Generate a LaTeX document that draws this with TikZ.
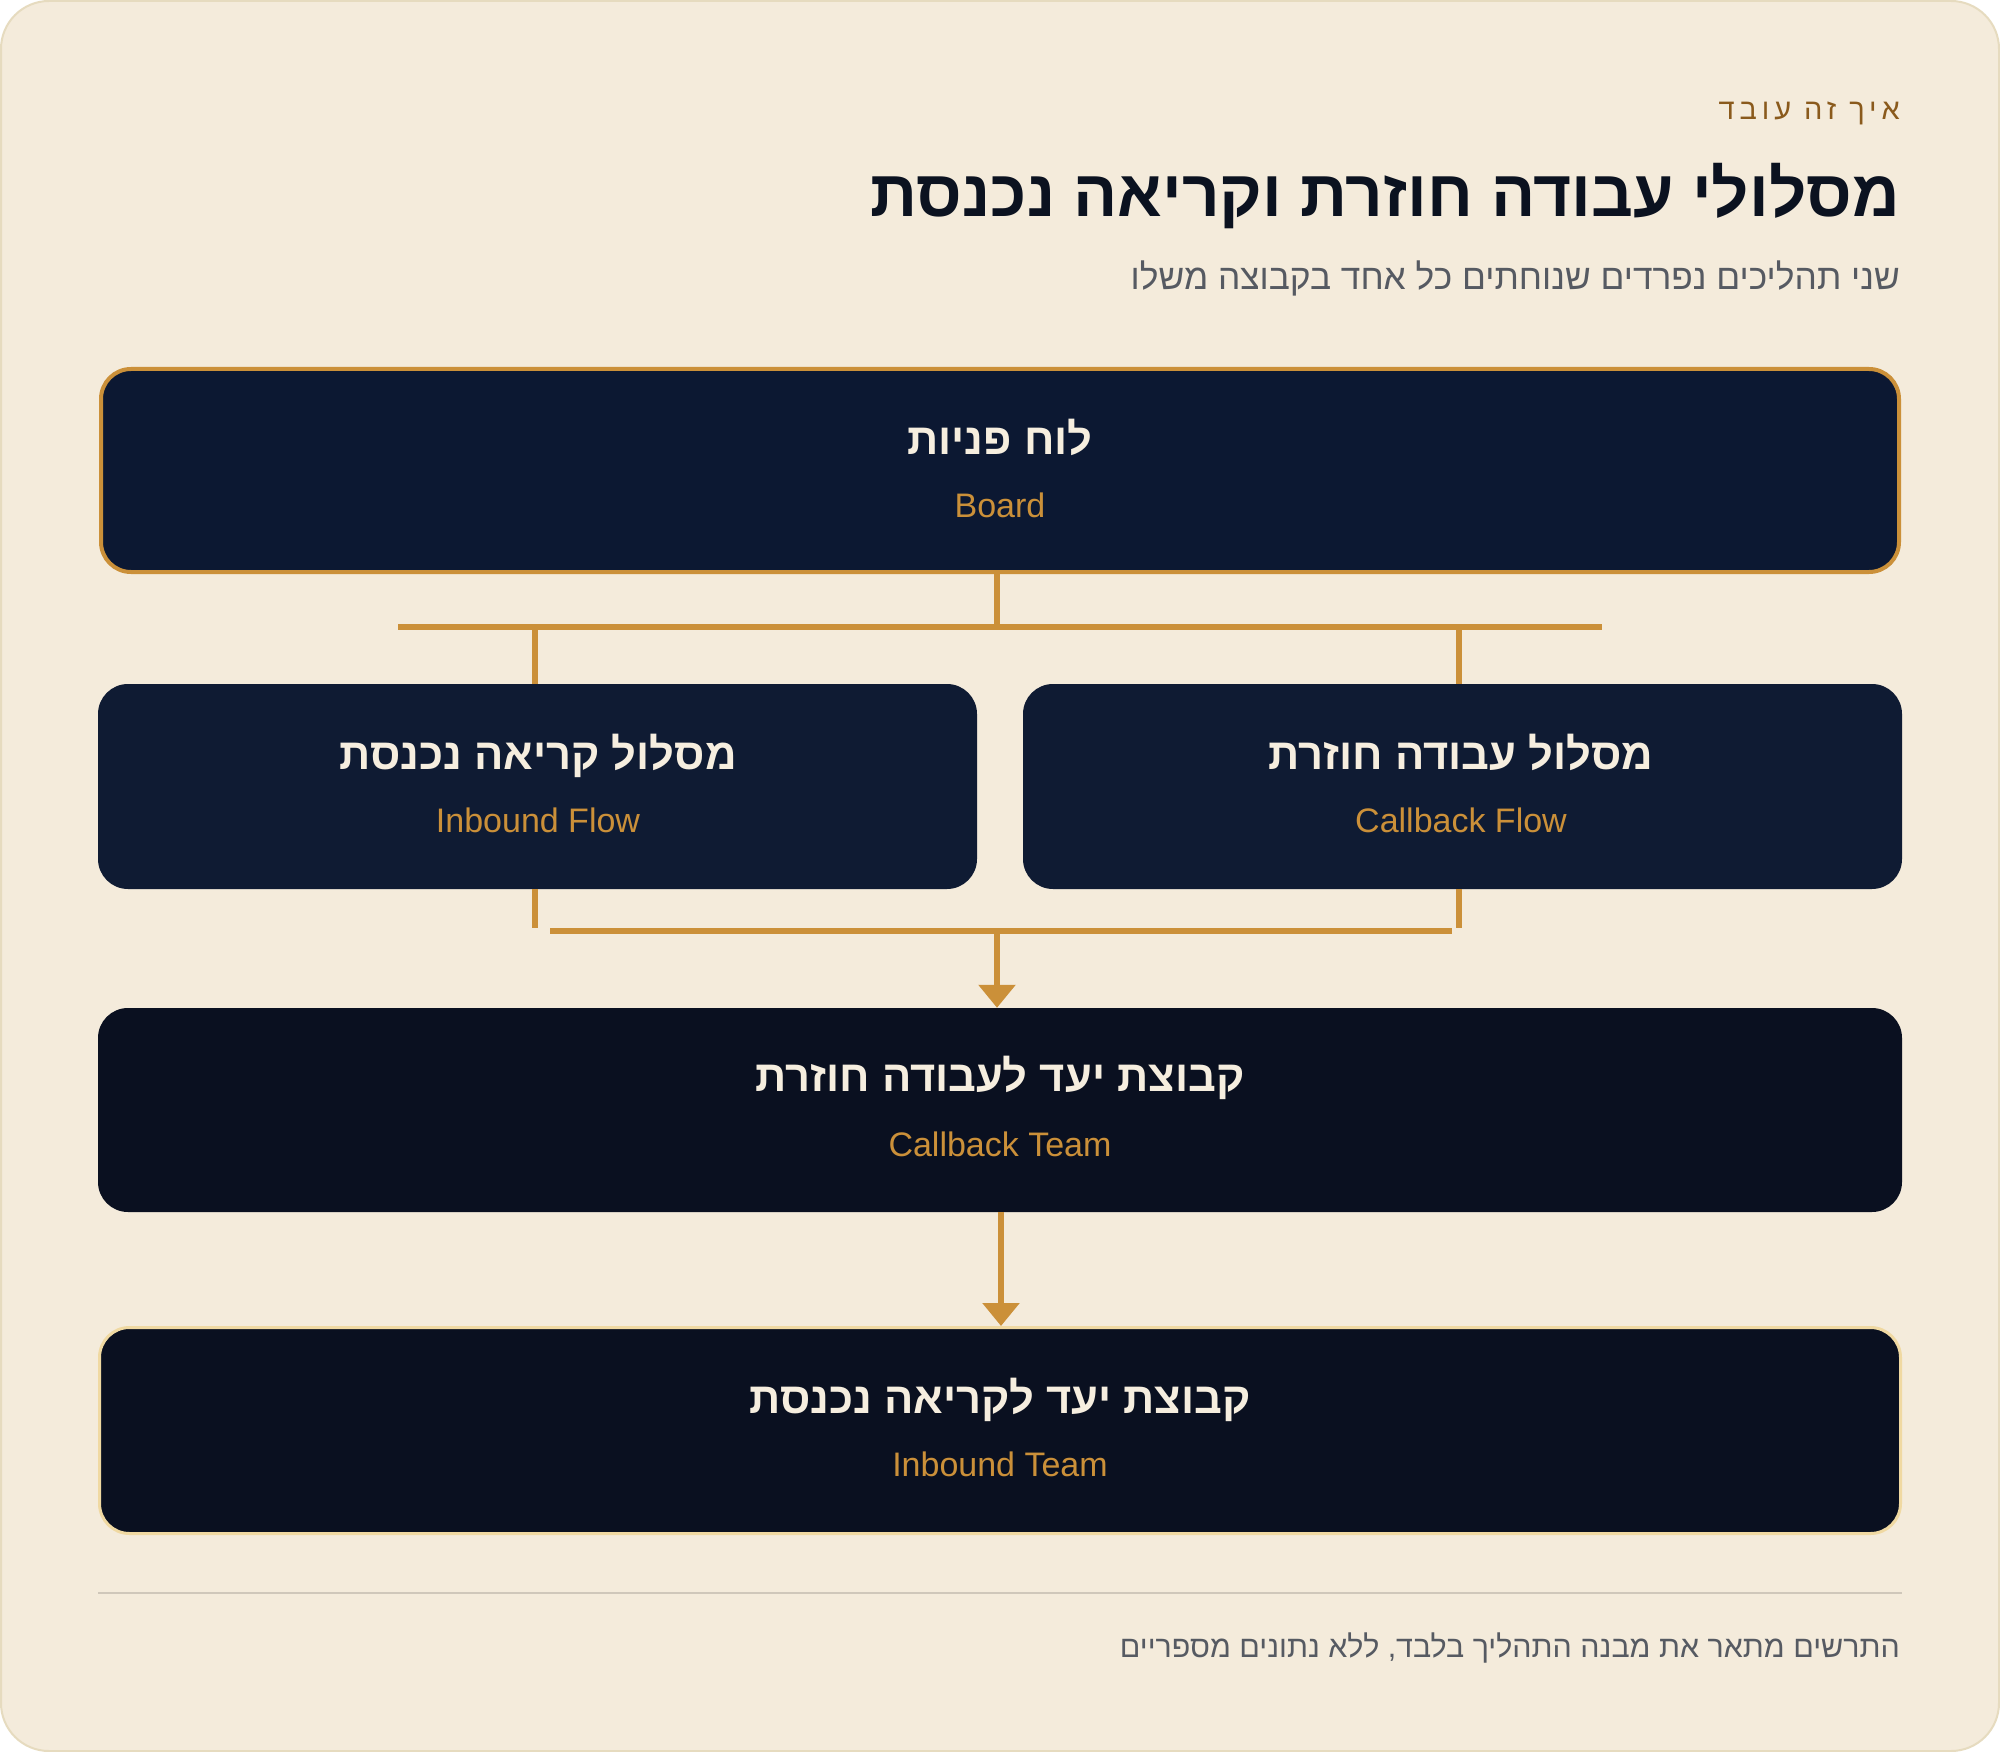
\documentclass[tikz,border=0pt]{standalone}
\usepackage{fontspec}
\setmainfont{Liberation Sans}
\newfontfamily\heb[Script=Hebrew]{Liberation Sans}
\TeXXeTstate=1
\usetikzlibrary{arrows.meta}
\definecolor{cardbg}{HTML}{F4EBDB}
\definecolor{cardline}{HTML}{E6DBBF}
\definecolor{navyA}{HTML}{0C1832}
\definecolor{navyB}{HTML}{0F1B33}
\definecolor{navyC}{HTML}{0A1020}
\definecolor{gold}{HTML}{CB9039}
\definecolor{palegold}{HTML}{F0D9A2}
\definecolor{cream}{HTML}{F6EEDF}
\definecolor{ink}{HTML}{0B1220}
\definecolor{muted}{HTML}{565A62}
\definecolor{kick}{HTML}{8A5A1C}
\definecolor{sepline}{HTML}{CFC7BA}
\tikzset{
  box/.style={rectangle, rounded corners=30pt, inner sep=0pt, draw=none},
  hebt/.style={anchor=base, inner sep=0pt, text=cream, font=\heb\bfseries\fontsize{43.5}{50}\selectfont},
  engt/.style={anchor=base, inner sep=0pt, text=gold, font=\fontsize{34}{40}\selectfont},
  conn/.style={draw=gold, line width=6pt, line cap=butt},
  arr/.style={draw=gold, line width=6pt, -{Triangle[width=36pt,length=23pt]}},
  headt/.style={anchor=base east, inner sep=0pt}
}
\begin{document}
\begin{tikzpicture}[x=1pt,y=-1pt]
\useasboundingbox (0,0) rectangle (2000,1752);
\fill[white] (0,0) rectangle (2000,1752);
\draw[fill=cardbg, draw=cardline, line width=2pt, rounded corners=48pt] (1,1) rectangle (1999,1751);

% header
\node[headt, text=kick, font=\heb\fontsize{29}{34}\selectfont\addfontfeature{LetterSpace=17}] (kicker) at (1900,120) {\beginR איך זה עובד\endR};
\node[headt, text=ink, font=\heb\bfseries\fontsize{65.5}{78}\selectfont] (title) at (1900,217) {\beginR מסלולי עבודה חוזרת וקריאה נכנסת\endR};
\node[headt, text=muted, font=\heb\fontsize{35.3}{42}\selectfont] (subtitle) at (1900,290) {\beginR שני תהליכים נפרדים שנוחתים כל אחד בקבוצה משלו\endR};

% boxes
\node[box, fill=navyA, draw=gold, line width=4pt, minimum width=1798pt, minimum height=203pt] (board) at (1000,470.5) {};
\node[box, fill=navyB, minimum width=879pt, minimum height=205pt] (inflow) at (537.5,786.5) {};
\node[box, fill=navyB, minimum width=879pt, minimum height=205pt] (cbflow) at (1462.5,786.5) {};
\node[box, fill=navyC, minimum width=1804pt, minimum height=204pt] (cbteam) at (1000,1110) {};
\node[box, fill=navyC, draw=palegold, line width=3pt, minimum width=1801pt, minimum height=206pt] (inteam) at (1000,1430.5) {};

% labels
\node[hebt] (boardh) at (1000,454) {\beginR לוח פניות\endR};
\node[engt] (boarde) at (1000,517) {Board};
\node[hebt] (inflowh) at (538,769) {\beginR מסלול קריאה נכנסת\endR};
\node[engt] (inflowe) at (538,832) {Inbound Flow};
\node[hebt] (cbflowh) at (1461,769) {\beginR מסלול עבודה חוזרת\endR};
\node[engt] (cbflowe) at (1461,832) {Callback Flow};
\node[hebt] (cbteamh) at (1000,1091) {\beginR קבוצת יעד לעבודה חוזרת\endR};
\node[engt] (cbteame) at (1000,1156) {Callback Team};
\node[hebt] (inteamh) at (1000,1413) {\beginR קבוצת יעד לקריאה נכנסת\endR};
\node[engt] (inteame) at (1000,1476) {Inbound Team};

% connectors
\coordinate (busL) at (398,627);
\coordinate (busR) at (1602,627);
\coordinate (busTop) at (997,627);
\coordinate (bus2L) at (550,931);
\coordinate (bus2R) at (1452,931);
\coordinate (bus2M) at (997,931);
\coordinate (inJoin) at (535,928);
\coordinate (cbJoin) at (1459,928);
\coordinate (inTop) at (535,627);
\coordinate (cbTop) at (1459,627);
\draw[conn] (busL) -- (busR);
\draw[conn] ([xshift=-3pt]board.south) -- (busTop);
\draw[conn] (inTop) -- (inTop |- inflow.north);
\draw[conn] (cbTop) -- (cbTop |- cbflow.north);
\draw[conn] (inTop |- inflow.south) -- (inJoin);
\draw[conn] (cbTop |- cbflow.south) -- (cbJoin);
\draw[conn] (bus2L) -- (bus2R);
\draw[arr] (bus2M) -- (bus2M |- cbteam.north);
\draw[arr] ([xshift=1pt]cbteam.south) -- ([xshift=1pt]inteam.north);

% separator and footer
\coordinate (sepL) at (98,1593);
\coordinate (sepR) at (1902,1593);
\draw[sepline, line width=2pt] (sepL) -- (sepR);
\node[headt, text=muted, font=\heb\fontsize{30.4}{36}\selectfont] (footer) at (1900,1657) {\beginR התרשים מתאר את מבנה התהליך בלבד, ללא נתונים מספריים\endR};
\end{tikzpicture}
\end{document}
